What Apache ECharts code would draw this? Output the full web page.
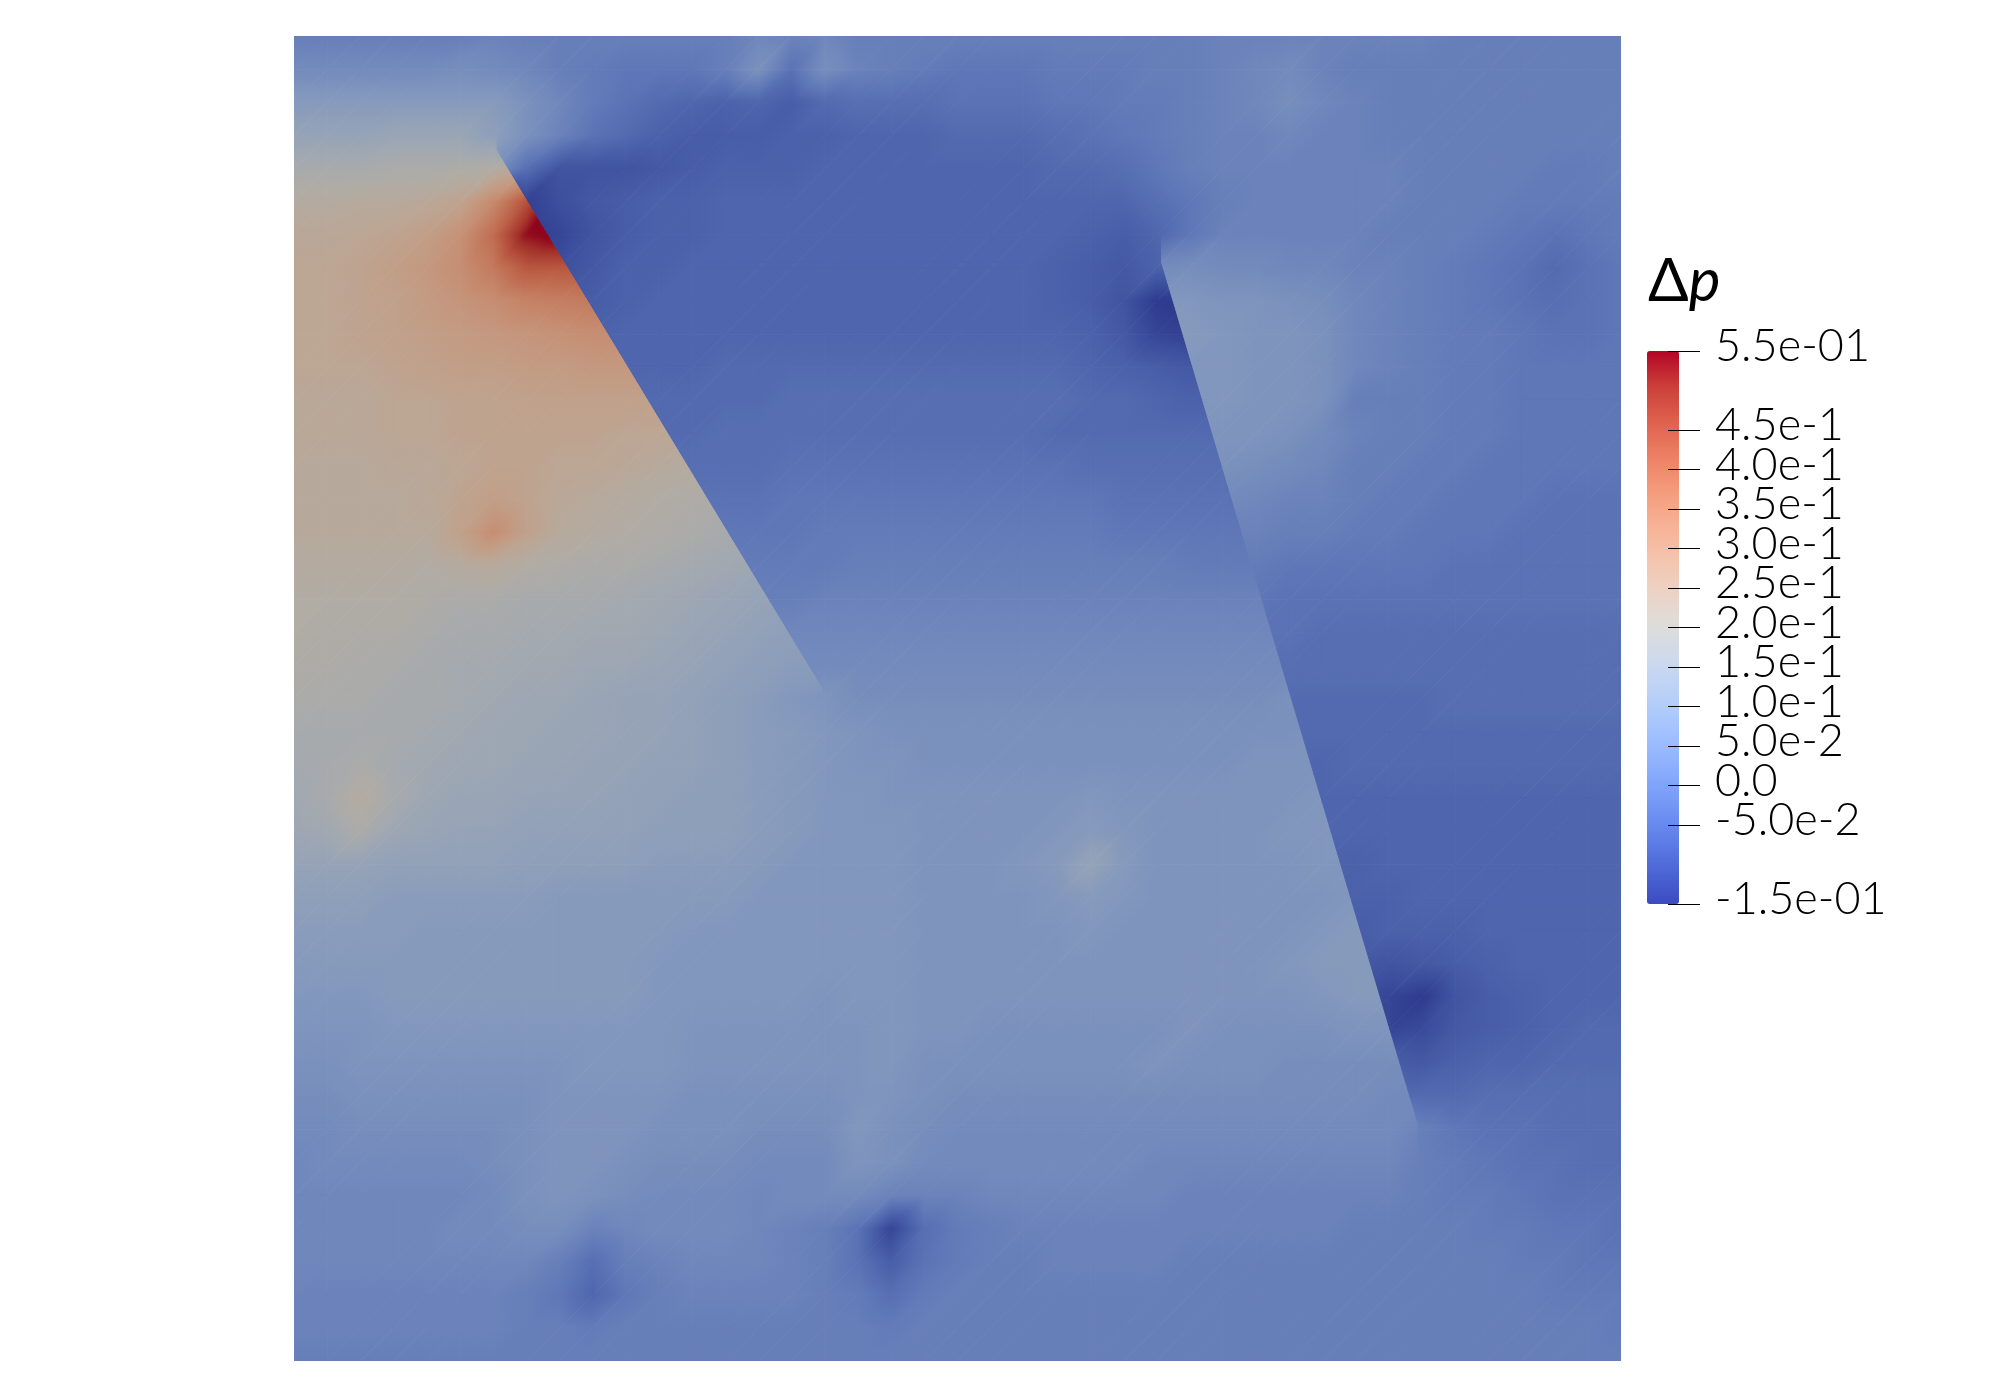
<!DOCTYPE html>
<html>
<head>
<meta charset="utf-8">
<title>Delta p</title>
<script src="https://cdn.jsdelivr.net/npm/echarts@6/dist/echarts.min.js"></script>
<style>
  html, body { margin: 0; padding: 0; background: #fff; }
  #chart { width: 1994px; height: 1382px; }
</style>
</head>
<body>
<div id="chart"></div>
<script>
// Nodal values of the field, unit 0.01. 41 rows from top to bottom.
// The field jumps across two faults, so each side has its own rows.
const leftRows = [
  [0,0,0,0,0,0,1,0],
  [3,3,3,3,3,4,3,2],
  [8,8,8,8,8,8,8,5],
  [12,12,12,13,13,13,10,5],
  [17,17,17,18,18,19,20,25,32],
  [21,21,22,22,23,25,33,45,60],
  [23,23,24,25,27,31,40,54,57,60],
  [24,24,25,27,29,32,37,44,44,44],
  [24,24,25,26,28,30,32,35,36,37,37],
  [24,24,25,26,27,28,29,30,31,32,32,32],
  [24,24,24,25,26,27,27,28,28,29,29,29],
  [23,23,23,24,24,25,25,26,26,26,26,26,25],
  [23,23,23,24,24,25,25,25,25,25,24,24,23],
  [22,22,22,23,23,24,25,25,24,24,23,22,21,20],
  [22,22,22,22,23,25,27,25,23,22,21,20,19,18,17],
  [22,22,22,22,22,26,32,26,22,21,20,19,18,17,16],
  [21,21,21,21,20,21,22,20,19,18,18,17,16,15,14,13],
  [20,20,20,20,19,18,18,17,17,17,16,15,14,13,12,11],
  [20,19,19,19,18,17,17,16,16,15,15,14,13,12,11,10,10],
  [19,19,18,18,17,16,16,15,15,14,14,13,12,11,10,9,9],
  [18,18,18,17,17,16,15,14,14,13,12,12,11,10,9,7,6],
  [17,17,17,17,16,15,14,14,13,13,12,12,11,10,9,8,7],
  [16,17,18,16,15,14,14,13,13,12,12,11,11,10,9,8,7],
  [15,17,21,17,14,13,13,12,12,12,11,11,10,10,9,8,7],
  [14,15,18,14,13,12,12,11,11,11,11,10,10,10,9,8,7],
  [12,12,12,11,11,11,11,10,10,10,10,9,9,9,8,7,7],
  [10,10,10,9,9,9,9,9,8,8,8,8,8,8,7,7,7],
  [9,9,9,9,8,8,8,8,8,8,8,8,7,7,7,7,7],
  [8,8,8,8,8,8,8,8,8,8,8,7,7,7,7,7,7],
  [7,7,7,8,8,8,8,8,8,8,8,7,7,7,7,7,6],
  [6,6,6,7,7,7,7,7,7,7,7,7,6,6,6,6,6],
  [5,5,6,6,6,6,6,6,6,7,7,7,6,6,6,6,6],
  [4,4,5,5,5,5,5,5,6,6,6,6,5,5,5,5,5],
  [3,3,4,4,4,4,4,5,6,6,6,5,5,5,4,4,4],
  [2,3,3,3,3,3,4,5,6,6,5,4,4,4,3,3,3],
  [2,2,2,2,2,2,3,5,6,5,4,3,3,3,2,3,3],
  [2,2,2,2,2,3,3,4,4,1,2,3,3,3,2,1,0],
  [2,2,2,2,2,2,2,2,0,-4,0,1,2,2,2,1,0],
  [1,1,1,1,1,1,1,0,-2,-6,-2,0,1,1,1,1,0],
  [1,1,1,1,1,1,1,0,0,-1,0,0,0,0,0,0,0],
  [0,0,0,0,0,0,0,0,0,0,0,0,0,0,0,0,0]
];
const midStart = [6,6,6,6,6,6,7,7,8,8,9,10,10,11,11,12,13,13,14,14,15,15,15,15,15,15,15,15,15,15,15,15,15,15,15,15,15,15,15,15,15];
const midRows = [
  [1,0,0,0,0,0,0,0,2,1,2,0,0,0,0,0,0,0,0,0,0,0],
  [3,2,0,-1,-2,-2,-2,0,5,-3,4,1,0,-1,-2,-2,-2,-1,-1,-1,0,0],
  [8,5,2,-1,-3,-5,-6,-7,-6,-8,-5,-4,-4,-4,-3,-3,-3,-2,-2,-1,-1,0],
  [10,5,1,-3,-5,-7,-8,-8,-8,-7,-7,-6,-6,-6,-5,-5,-5,-4,-3,-2,-1,0],
  [5,-4,-10,-10,-10,-9,-8,-7,-7,-7,-6,-6,-6,-6,-6,-6,-6,-5,-5,-4,-2,0],
  [-14,-14,-11,-9,-8,-7,-7,-6,-6,-6,-6,-6,-6,-6,-6,-6,-6,-6,-6,-6,-4,-2],
  [-15,-13,-10,-8,-7,-7,-6,-6,-6,-6,-6,-6,-6,-6,-6,-6,-6,-7,-8,-6,-2],
  [-11,-11,-9,-7,-7,-6,-6,-6,-6,-6,-6,-6,-6,-6,-6,-6,-7,-8,-9,-7,-7],
  [-9,-8,-7,-6,-6,-6,-6,-6,-6,-6,-6,-6,-6,-6,-6,-7,-8,-10,-15,-16],
  [-8,-7,-6,-6,-6,-6,-6,-6,-6,-6,-6,-6,-6,-6,-6,-6,-7,-9,-13,-14,-14],
  [-7,-6,-6,-6,-5,-5,-5,-5,-5,-5,-5,-5,-5,-5,-5,-6,-7,-8,-9,-9],
  [-5,-5,-5,-5,-5,-4,-4,-4,-4,-4,-4,-4,-4,-4,-5,-5,-6,-7,-7],
  [-5,-5,-5,-4,-4,-4,-4,-4,-4,-4,-4,-4,-4,-5,-5,-5,-5,-5,-5],
  [-4,-4,-4,-4,-3,-3,-3,-3,-3,-3,-3,-3,-3,-4,-4,-4,-4,-4,-4],
  [-3,-3,-3,-3,-2,-2,-2,-2,-2,-2,-2,-2,-2,-2,-3,-3,-3,-3,-3],
  [-2,-2,-2,-2,-1,-1,-1,-1,-1,-1,-1,-1,-1,-2,-2,-2,-2,-2],
  [-1,-1,-1,-1,0,0,0,0,0,0,0,0,0,0,-1,-1,-1,-1],
  [0,0,0,1,1,1,1,1,1,1,1,1,1,1,1,1,1,1],
  [2,2,2,2,2,2,2,2,2,2,2,2,2,2,2,2,2],
  [3,3,3,3,3,3,3,3,3,3,3,3,3,3,3,3,3,3],
  [5,6,4,4,4,4,4,4,4,4,4,4,4,4,4,5,5],
  [8,7,6,5,5,5,5,5,5,5,5,5,5,5,5,5,6],
  [8,7,6,6,5,5,5,5,5,5,5,5,5,5,6,6,6],
  [8,7,7,6,6,6,6,6,6,7,6,6,6,6,6,6,7,7],
  [8,7,7,7,6,6,6,6,7,8,7,6,6,6,6,7,7,7],
  [7,7,7,7,6,6,6,7,8,12,8,6,6,6,6,6,7,7],
  [7,7,7,7,6,6,6,6,7,8,7,6,6,6,6,6,6,7,8],
  [7,7,7,7,6,6,6,6,6,7,6,6,6,6,6,6,7,8,9],
  [7,7,7,7,6,6,6,6,6,6,6,6,6,6,6,7,8,8,8],
  [7,6,7,7,6,6,6,6,6,6,6,6,6,6,6,6,7,8,8,7],
  [6,6,6,7,6,6,5,5,5,5,5,5,6,5,5,5,5,6,6,6],
  [6,6,6,7,5,5,5,5,5,5,5,6,5,5,5,4,4,4,4,4],
  [5,5,6,6,5,4,4,4,4,4,4,4,4,4,4,4,4,4,3,3],
  [4,4,7,5,4,3,3,3,3,3,3,3,3,3,3,3,3,3,3,1],
  [3,3,6,5,3,3,3,3,3,3,3,2,2,2,2,2,2,2,2,0],
  [3,3,3,1,1,1,2,2,2,2,2,2,1,1,1,1,1,1,1,0],
  [1,0,-3,-13,-4,-1,0,1,1,1,1,1,1,1,1,1,1,0,0,0],
  [1,0,-3,-8,-3,-1,0,0,1,1,1,1,0,0,0,0,0,0,0,0],
  [1,0,-1,-4,-1,0,0,0,0,0,0,0,0,0,0,0,0,0,0,0],
  [0,0,0,-1,0,0,0,0,0,0,0,0,0,0,0,0,0,0,0,0],
  [0,0,0,0,0,0,0,0,0,0,0,0,0,0,0,0,0,0,0,0]
];
const rightStart = [26,26,26,26,26,26,26,26,26,26,26,27,27,27,27,28,28,28,29,29,29,30,30,30,30,31,31,31,32,32,32,33,33,33,33,33,33,33,33,33,33];
const rightRows = [
  [0,0,1,1,1,1,1,1,1,0,0,0,0,0,0],
  [0,0,1,2,3,1,0,0,0,0,0,0,0,0,0],
  [-1,0,1,2,4,2,1,0,0,0,0,0,0,0,0],
  [-1,0,1,1,2,1,1,0,0,0,0,0,0,0,0],
  [-2,0,1,1,1,1,1,1,0,0,0,0,-1,-1,0],
  [-4,-2,0,1,1,1,1,1,0,0,0,-1,-1,-1,-1],
  [-6,-2,1,1,1,1,1,0,0,0,-1,-2,-3,-2,-1],
  [3,4,3,3,2,2,1,1,0,-1,-2,-3,-5,-3,-2],
  [7,7,6,6,5,4,2,1,0,-1,-2,-3,-4,-3,-2],
  [8,8,7,6,6,5,2,1,0,-1,-1,-2,-3,-3,-2],
  [7,7,7,6,6,5,2,1,0,-1,-1,-2,-2,-2,-2],
  [7,7,6,6,5,0,0,0,-1,-1,-2,-2,-2,-2],
  [6,6,6,5,3,1,0,0,-1,-1,-2,-2,-2,-2],
  [5,5,4,3,2,0,0,-1,-1,-2,-2,-2,-2,-2],
  [3,3,2,1,1,0,-1,-1,-2,-2,-2,-3,-3,-3],
  [1,1,0,0,-1,-1,-2,-2,-2,-3,-3,-3,-3],
  [-1,-1,-2,-2,-2,-2,-2,-3,-3,-3,-3,-3,-3],
  [-2,-2,-3,-3,-3,-3,-3,-3,-3,-3,-3,-3,-3],
  [-3,-3,-4,-4,-4,-4,-4,-4,-4,-4,-4,-4],
  [-4,-4,-4,-4,-4,-4,-4,-4,-4,-4,-4,-4],
  [-5,-5,-5,-5,-5,-5,-4,-4,-4,-4,-4,-4],
  [-5,-5,-5,-5,-5,-5,-5,-5,-5,-5,-5],
  [-6,-6,-5,-5,-5,-5,-5,-5,-5,-5,-5],
  [-6,-6,-6,-6,-6,-6,-6,-6,-6,-6,-6],
  [-6,-6,-6,-6,-6,-6,-6,-6,-6,-6,-6],
  [-7,-7,-6,-6,-6,-6,-6,-6,-6,-6],
  [-7,-7,-7,-6,-6,-6,-6,-6,-6,-6],
  [-8,-8,-7,-7,-7,-6,-6,-6,-6,-6],
  [-9,-10,-9,-8,-7,-6,-6,-6,-6],
  [-11,-13,-15,-10,-8,-7,-6,-6,-6],
  [-11,-13,-12,-9,-8,-7,-6,-5,-5],
  [-8,-9,-7,-6,-6,-5,-5,-5],
  [-5,-5,-5,-4,-4,-4,-4,-4],
  [3,0,-2,-3,-3,-4,-4,-4],
  [2,0,-1,-2,-3,-3,-4,-4],
  [1,0,-1,-1,-2,-3,-3,-3],
  [0,0,0,-1,-1,-2,-2,-3],
  [0,0,0,0,-1,-1,-2,-2],
  [0,0,0,0,0,-1,-1,-1],
  [0,0,0,0,0,0,0,-1],
  [0,0,0,0,0,0,0,0]
];

// fault ends in the same row/column units as the tables above
const faultA = { top: [6.09, 3.44], bottom: [15.93, 19.73] };
const faultB = { top: [26.15, 6.82], bottom: [33.9, 32.9] };

const tickValues = [-15, -5, 0, 5, 10, 15, 20, 25, 30, 35, 40, 45, 55];
const tickLabels = ['-1.5e-01', '-5.0e-2', '0.0', '5.0e-2', '1.0e-1', '1.5e-1', '2.0e-1', '2.5e-1', '3.0e-1', '3.5e-1', '4.0e-1', '4.5e-1', '5.5e-01'];

const valueMin = -15;
const valueMax = 55;
const coolWarm = [
  [59, 76, 192], [77, 104, 215], [98, 130, 234], [119, 154, 247], [141, 176, 254],
  [163, 194, 255], [184, 208, 249], [204, 217, 238], [221, 221, 221], [236, 211, 197],
  [245, 196, 173], [247, 177, 148], [244, 154, 123], [236, 127, 99], [222, 96, 77],
  [203, 62, 56], [180, 4, 38]
];
// the field is lit in the 3D view, so it sits darker than the colour bar
const fieldShade = [0.8, 0.78, 0.74];

const barColors = coolWarm.map(c => `rgb(${c[0]},${c[1]},${c[2]})`);
const fieldColors = coolWarm.map(c => `rgb(${c.map((n, i) => Math.round(n * fieldShade[i])).join(',')})`);

function fieldColor(v) {
  const t = (v - valueMin) / (valueMax - valueMin);
  return echarts.color.lerp(Math.min(1, Math.max(0, t)), fieldColors);
}

function toTriangles(rows, starts) {
  const tris = [];
  for (let j = 0; j < rows.length - 1; j++) {
    const a = rows[j], b = rows[j + 1];
    const sa = starts ? starts[j] : 0, sb = starts ? starts[j + 1] : 0;
    const from = Math.max(sa, sb);
    const to = Math.min(sa + a.length, sb + b.length) - 1;
    for (let i = from; i < to; i++) {
      const v00 = a[i - sa], v10 = a[i + 1 - sa], v01 = b[i - sb], v11 = b[i + 1 - sb];
      tris.push([i, j, v00, i + 1, j, v10, i, j + 1, v01]);
      tris.push([i + 1, j, v10, i + 1, j + 1, v11, i, j + 1, v01]);
    }
  }
  return tris;
}

function faultX(f, y) {
  if (y <= f.top[1]) return f.top[0];
  if (y >= f.bottom[1]) return f.bottom[0];
  return f.top[0] + (f.bottom[0] - f.top[0]) * (y - f.top[1]) / (f.bottom[1] - f.top[1]);
}

// one region = convex bands between the fault ends
const bandEdges = [0, faultA.top[1], faultB.top[1], faultA.bottom[1], faultB.bottom[1], 40];
function makePieces(xLeft, xRight) {
  const pieces = [];
  for (let k = 0; k < bandEdges.length - 1; k++) {
    const y0 = bandEdges[k], y1 = bandEdges[k + 1];
    pieces.push([[xLeft(y0), y0], [xRight(y0), y0], [xRight(y1), y1], [xLeft(y1), y1]]);
  }
  return pieces;
}

function clipPolygon(poly, piece) {
  let out = poly;
  for (let e = 0; e < piece.length && out.length; e++) {
    const p = piece[e], q = piece[(e + 1) % piece.length];
    const side = r => (q[0] - p[0]) * (r[1] - p[1]) - (q[1] - p[1]) * (r[0] - p[0]);
    const next = [];
    for (let n = 0; n < out.length; n++) {
      const a = out[n], b = out[(n + 1) % out.length];
      const sa = side(a), sb = side(b);
      if (sa >= 0) next.push(a);
      if ((sa > 0 && sb < 0) || (sa < 0 && sb > 0)) {
        const t = sa / (sa - sb);
        next.push([a[0] + (b[0] - a[0]) * t, a[1] + (b[1] - a[1]) * t]);
      }
    }
    out = next;
  }
  return out;
}

// value is linear over a triangle, which is exactly a canvas linear gradient
function triangleFill(p, v) {
  const vLow = Math.min(v[0], v[1], v[2]);
  const vHigh = Math.max(v[0], v[1], v[2]);
  if (vHigh - vLow < 1e-6) return fieldColor(vLow);
  const dx1 = p[1][0] - p[0][0], dy1 = p[1][1] - p[0][1];
  const dx2 = p[2][0] - p[0][0], dy2 = p[2][1] - p[0][1];
  const dv1 = v[1] - v[0], dv2 = v[2] - v[0];
  const det = dx1 * dy2 - dx2 * dy1;
  const gx = (dv1 * dy2 - dv2 * dy1) / det;
  const gy = (dx1 * dv2 - dx2 * dv1) / det;
  const g2 = gx * gx + gy * gy;
  const stops = [];
  const count = Math.ceil((vHigh - vLow) / 2) + 1;
  for (let k = 0; k <= count; k++) {
    stops.push({ offset: k / count, color: fieldColor(vLow + (vHigh - vLow) * k / count) });
  }
  return new echarts.graphic.LinearGradient(
    p[0][0] + (vLow - v[0]) * gx / g2, p[0][1] + (vLow - v[0]) * gy / g2,
    p[0][0] + (vHigh - v[0]) * gx / g2, p[0][1] + (vHigh - v[0]) * gy / g2,
    stops, true
  );
}

function regionRenderer(pieces) {
  return function (params, api) {
    const tri = [0, 3, 6].map(k => [api.value(k), api.value(k + 1)]);
    const vals = [2, 5, 8].map(k => api.value(k));
    const fill = triangleFill(tri.map(n => api.coord(n)), vals);
    const children = [];
    pieces.forEach(piece => {
      const clipped = clipPolygon(tri, piece);
      if (clipped.length >= 3) {
        children.push({
          type: 'polygon',
          shape: { points: clipped.map(n => api.coord(n)) },
          style: { fill: fill, stroke: fill, lineWidth: 1 }
        });
      }
    });
    return { type: 'group', children: children };
  };
}

function fieldSeries(rows, starts, pieces) {
  return {
    type: 'custom',
    xAxisIndex: 0,
    yAxisIndex: 0,
    silent: true,
    clip: true,
    animation: false,
    progressive: 0,
    renderItem: regionRenderer(pieces),
    data: toTriangles(rows, starts)
  };
}

const chart = echarts.init(document.getElementById('chart'), null, { renderer: 'canvas' });
chart.setOption({
  backgroundColor: '#ffffff',
  animation: false,
  title: {
    text: 'Δ{p|p}',
    left: 1648,
    top: 252,
    padding: 0,
    textStyle: {
      fontFamily: 'Lato',
      fontSize: 60,
      fontWeight: 400,
      color: '#000',
      rich: { p: { fontFamily: 'Lato', fontSize: 60, fontWeight: 400, fontStyle: 'italic', color: '#000' } }
    }
  },
  grid: [
    { left: 294, top: 36, width: 1327, height: 1325, containLabel: false },
    { left: 1647, top: 351, width: 21, height: 553, containLabel: false }
  ],
  xAxis: [
    { type: 'value', gridIndex: 0, min: 0, max: 40, show: false },
    { type: 'value', gridIndex: 1, min: 0, max: 1, show: false }
  ],
  yAxis: [
    { type: 'value', gridIndex: 0, min: 0, max: 40, inverse: true, show: false },
    {
      type: 'value',
      gridIndex: 1,
      position: 'right',
      z: 10,
      min: valueMin,
      max: valueMax,
      interval: 5,
      axisLine: { show: true, onZero: false, lineStyle: { color: 'transparent' } },
      splitLine: { show: false },
      axisTick: { show: true, length: 32, customValues: tickValues, lineStyle: { color: '#000', width: 1 } },
      axisLabel: {
        show: true,
        customValues: tickValues,
        margin: 47,
        verticalAlign: 'bottom',
        lineHeight: 9,
        fontFamily: 'Lato',
        fontSize: 45,
        fontWeight: 300,
        color: '#000',
        formatter: v => tickLabels[tickValues.indexOf(v)]
      }
    }
  ],
  visualMap: {
    type: 'continuous',
    show: true,
    seriesIndex: 0,
    dimension: 2,
    min: valueMin,
    max: valueMax,
    left: 1647,
    top: 351,
    padding: 0,
    itemWidth: 32,
    itemHeight: 553,
    calculable: false,
    hoverLink: false,
    text: null,
    showLabel: false,
    inRange: { color: barColors },
    textStyle: { fontSize: 0 }
  },
  series: [
    fieldSeries(midRows, midStart, makePieces(y => faultX(faultA, y), y => faultX(faultB, y))),
    fieldSeries(leftRows, null, makePieces(() => 0, y => faultX(faultA, y))),
    fieldSeries(rightRows, rightStart, makePieces(y => faultX(faultB, y), () => 40))
  ]
});
</script>
</body>
</html>
